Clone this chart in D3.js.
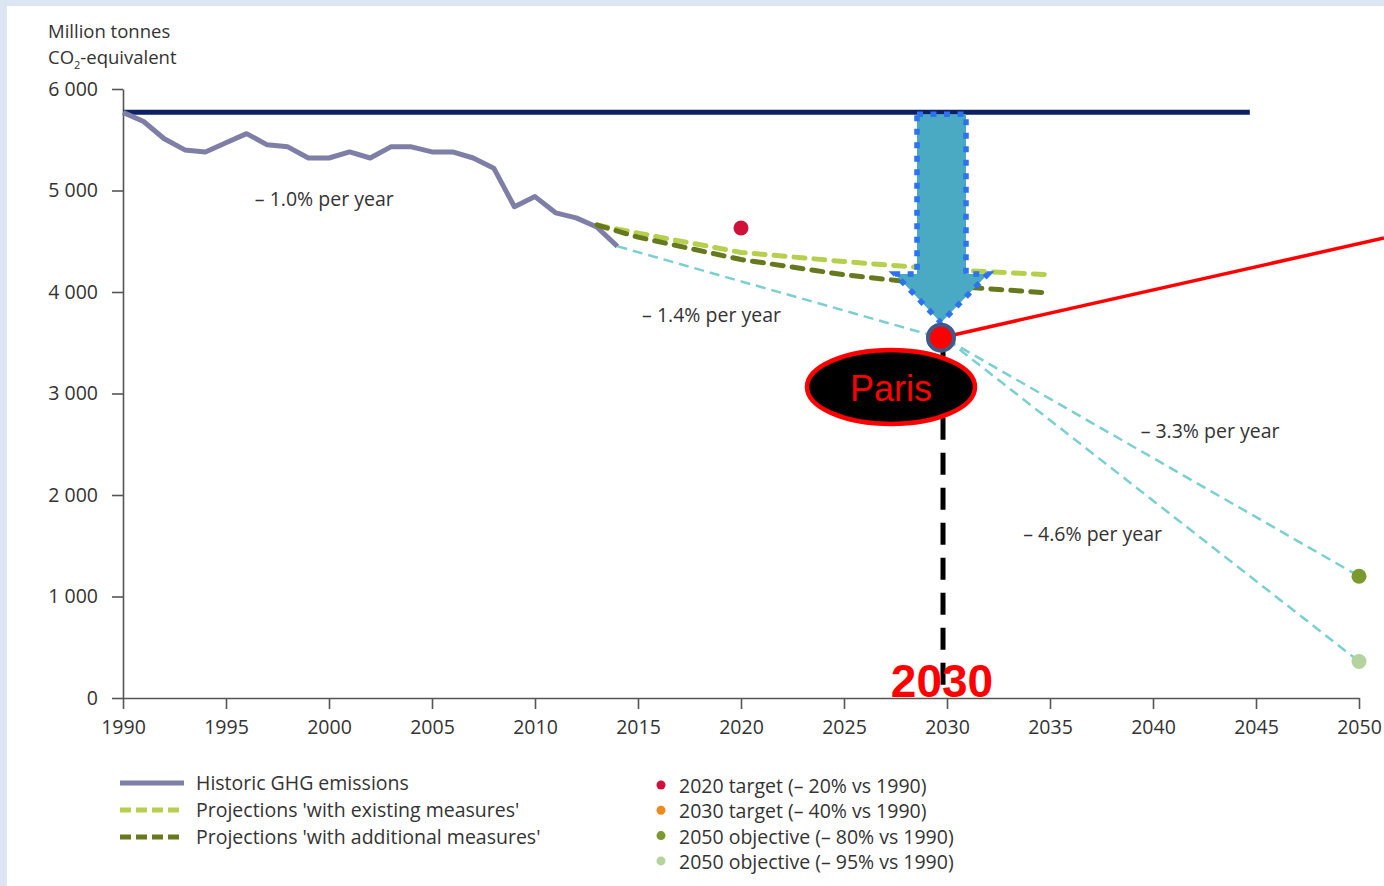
<!DOCTYPE html>
<html>
<head>
<meta charset="utf-8">
<script src="https://cdn.jsdelivr.net/npm/d3@7"></script>
<style>
  body { margin: 0; background: #dce6f2; }
  svg { display: block; }
  text { font-family: "Open Sans", "DejaVu Sans", sans-serif; fill: #333; }
</style>
</head>
<body>
<script>
// data
var histYears = [1990,1991,1992,1993,1994,1995,1996,1997,1998,1999,2000,2001,2002,2003,2004,2005,2006,2007,2008,2009,2010,2011,2012,2013,2014];
var histValues = [5770,5680,5510,5400,5380,5470,5560,5450,5430,5320,5320,5380,5320,5430,5430,5380,5380,5320,5220,4840,4940,4780,4730,4640,4450];

var projYears = [2013,2015,2020,2025,2030,2035];
var wemValues = [4660,4580,4390,4300,4220,4170];
var wamValues = [4660,4540,4320,4170,4060,3990];

var path14 = [[2014,4450],[2030,3530]];
var path33 = [[2030,3530],[2050,1200]];
var path46 = [[2030,3530],[2050,360]];

var targets = [
  {year: 2020, value: 4630, color: "#d0103a"},
  {year: 2050, value: 1200, color: "#7a9a2e"},
  {year: 2050, value: 360,  color: "#b5d39c"}
];
var baseline1990 = 5770;

var rateLabels = [
  {text: "– 1.0% per year", year: 1996.4, value: 4850},
  {text: "– 1.4% per year", year: 2015.2, value: 3705},
  {text: "– 3.3% per year", year: 2039.4, value: 2560},
  {text: "– 4.6% per year", year: 2033.7, value: 1550}
];

var yTicks = [0,1000,2000,3000,4000,5000,6000];
var xTicks = [1990,1995,2000,2005,2010,2015,2020,2025,2030,2035,2040,2045,2050];

var lineLegend = [
  {label: "Historic GHG emissions", color: "#7f7ea6", dash: null},
  {label: "Projections 'with existing measures'", color: "#b6cf4e", dash: "11,5"},
  {label: "Projections 'with additional measures'", color: "#66791f", dash: "11,5"}
];
var dotLegend = [
  {label: "2020 target (– 20% vs 1990)", color: "#d0103a"},
  {label: "2030 target (– 40% vs 1990)", color: "#f08a1c"},
  {label: "2050 objective (– 80% vs 1990)", color: "#7a9a2e"},
  {label: "2050 objective (– 95% vs 1990)", color: "#b5d39c"}
];

var W = 1384, H = 886, FS = 19.5;
var x = d3.scaleLinear().domain([1990, 2050]).range([123, 1359]);
var y = d3.scaleLinear().domain([0, 6000]).range([698, 89]);

var svg = d3.select("body").append("svg").attr("width", W).attr("height", H);

svg.append("rect").attr("x", 7).attr("y", 6).attr("width", W - 7).attr("height", H - 6).attr("fill", "#fff");

// axes
var xAxis = svg.append("g").attr("transform", "translate(0," + y(0) + ")")
  .call(d3.axisBottom(x).tickValues(xTicks).tickFormat(d3.format("d")).tickSize(11).tickSizeOuter(0));
var yAxis = svg.append("g").attr("transform", "translate(" + x(1990) + ",0)")
  .call(d3.axisLeft(y).tickValues(yTicks).tickFormat(function(d){ return d3.format(",")(d).replace(",", " "); }).tickSize(11).tickSizeOuter(0));
[xAxis, yAxis].forEach(function(a){
  a.select(".domain").attr("stroke", "#555").attr("stroke-width", 1.6);
  a.selectAll(".tick line").attr("stroke", "#555").attr("stroke-width", 1.6);
  a.selectAll(".tick text").attr("font-size", FS).attr("fill", "#333")
    .style("font-family", "'Open Sans', sans-serif");
});
xAxis.selectAll(".tick text").attr("dy", "1.15em");
yAxis.selectAll(".tick text").attr("dy", "0.32em").attr("x", -25);

// axis title
var yt = svg.append("text").attr("x", 48).attr("y", 38).attr("font-size", 18.5);
yt.append("tspan").text("Million tonnes");
var yt2 = svg.append("text").attr("x", 48).attr("y", 63.5).attr("font-size", 18.5);
yt2.append("tspan").text("CO");
yt2.append("tspan").attr("font-size", 11).attr("dy", 5).text("2");
yt2.append("tspan").attr("dy", -5).text("-equivalent");

// 1990 baseline
svg.append("line")
  .attr("x1", x(1990)).attr("x2", x(2044.7))
  .attr("y1", y(baseline1990)).attr("y2", y(baseline1990))
  .attr("stroke", "#0b2163").attr("stroke-width", 5);

var line = d3.line().x(function(d){ return x(d[0]); }).y(function(d){ return y(d[1]); });

// pathway lines
[path14, path33, path46].forEach(function(p){
  svg.append("path").attr("d", line(p)).attr("fill", "none")
    .attr("stroke", "#7ccfcf").attr("stroke-width", 2.5).attr("stroke-dasharray", "10,6");
});

// historic
svg.append("path").attr("d", line(d3.zip(histYears, histValues)))
  .attr("fill", "none").attr("stroke", "#7f7ea6").attr("stroke-width", 5).attr("stroke-linejoin", "round");

// projections
svg.append("path").attr("d", line(d3.zip(projYears, wemValues)))
  .attr("fill", "none").attr("stroke", "#b6cf4e").attr("stroke-width", 5)
  .attr("stroke-linecap", "round").attr("stroke-dasharray", "11,9");
svg.append("path").attr("d", line(d3.zip(projYears, wamValues)))
  .attr("fill", "none").attr("stroke", "#66791f").attr("stroke-width", 5)
  .attr("stroke-linecap", "round").attr("stroke-dasharray", "11,9");

// target dots
svg.selectAll(".tgt").data(targets).enter().append("circle")
  .attr("cx", function(d){ return x(d.year); }).attr("cy", function(d){ return y(d.value); })
  .attr("r", 7.5).attr("fill", function(d){ return d.color; });

// rate labels
svg.selectAll(".rate").data(rateLabels).enter().append("text")
  .attr("x", function(d){ return x(d.year); }).attr("y", function(d){ return y(d.value); })
  .attr("font-size", FS).text(function(d){ return d.text; });

// ---- Paris overlay ----
var px = x(2030) - 6, py = y(3530) - 2;
// red pointer line
svg.append("line").attr("x1", px).attr("y1", py).attr("x2", W).attr("y2", 238)
  .attr("stroke", "#ff0000").attr("stroke-width", 3.5);
// black dashed vertical
svg.append("line").attr("x1", px + 2).attr("x2", px + 2).attr("y1", py + 10).attr("y2", y(0) - 2)
  .attr("stroke", "#000").attr("stroke-width", 5).attr("stroke-dasharray", "22,13");

// arrow
var arrowTop = y(baseline1990) + 2, headY = 274, tipY = py - 15;
var arrowPts = [[px - 24, arrowTop],[px + 25, arrowTop],[px + 25, headY],[px + 47, headY],[px, tipY],[px - 46, headY],[px - 24, headY]];
svg.append("path").attr("d", "M" + arrowPts.join("L") + "Z")
  .attr("fill", "#4aaac3").attr("stroke", "#2d72f0").attr("stroke-width", 5.5)
  .attr("stroke-dasharray", "6,7.5");

// 2030 dot
svg.append("circle").attr("cx", px).attr("cy", py).attr("r", 13)
  .attr("fill", "#ff0000").attr("stroke", "#3d5a88").attr("stroke-width", 4);

// ellipse
svg.append("ellipse").attr("cx", 891).attr("cy", 387).attr("rx", 84).attr("ry", 37)
  .attr("fill", "#000").attr("stroke", "#ff0000").attr("stroke-width", 4.5);
svg.append("text").attr("x", 891).attr("y", 401).attr("text-anchor", "middle")
  .attr("font-size", 36).style("fill", "#ff0000").style("font-family", "'Liberation Sans', sans-serif")
  .text("Paris");

svg.append("text").attr("x", px + 1).attr("y", 697).attr("text-anchor", "middle")
  .attr("font-size", 46).attr("font-weight", "bold").style("fill", "#ff0000")
  .style("font-family", "'Liberation Sans', sans-serif").text("2030");

// legends
var lg = svg.append("g");
lineLegend.forEach(function(d, i){
  var yy = 783 + i * 27;
  lg.append("line").attr("x1", 120).attr("x2", 184).attr("y1", yy).attr("y2", yy)
    .attr("stroke", d.color).attr("stroke-width", 5)
    .attr("stroke-dasharray", d.dash);
  lg.append("text").attr("x", 196).attr("y", yy + 7).attr("font-size", FS).text(d.label);
});
dotLegend.forEach(function(d, i){
  var yy = 786 + i * 25.3;
  lg.append("circle").attr("cx", 661).attr("cy", yy - 1).attr("r", 4.5).attr("fill", d.color);
  lg.append("text").attr("x", 679).attr("y", yy + 7).attr("font-size", FS).text(d.label);
});
</script>
</body>
</html>
